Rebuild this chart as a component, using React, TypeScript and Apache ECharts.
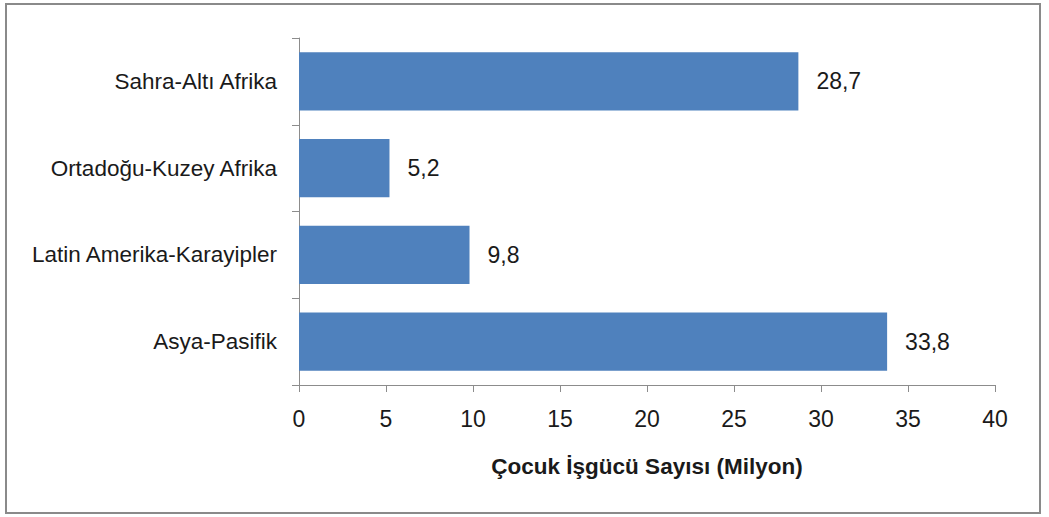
import React, { useEffect, useRef } from "react";
import * as echarts from "echarts";

const categories = ["Sahra-Altı Afrika", "Ortadoğu-Kuzey Afrika", "Latin Amerika-Karayipler", "Asya-Pasifik"];
const values = [28.7, 5.2, 9.8, 33.8];
const axisTitle = "Çocuk İşgücü Sayısı (Milyon)";

const FONT = "'Liberation Sans Narrow', 'Arial Narrow', 'Liberation Sans', Arial, sans-serif";

export default function App() {
  const ref = useRef<HTMLDivElement>(null);
  useEffect(() => {
    document.body.style.margin = "0";
    const chart = echarts.init(ref.current!, null, { renderer: "svg" });
    chart.setOption({
      animation: false,
      backgroundColor: "#ffffff",
      grid: { left: 299, right: 54, top: 38, bottom: 132 },
      graphic: [
        {
          type: "rect",
          shape: { x: 6, y: 4, width: 1034, height: 509 },
          style: { fill: "none", stroke: "#8a8a8a", lineWidth: 2 },
          silent: true,
        },
      ],
      xAxis: {
        type: "value",
        min: 0,
        max: 40,
        interval: 5,
        splitLine: { show: false },
        axisLine: { show: true, lineStyle: { color: "#8c8c8c", width: 1 } },
        axisTick: { show: true, length: 7, lineStyle: { color: "#8c8c8c" } },
        axisLabel: { color: "#1a1a1a", fontSize: 23, fontFamily: FONT, margin: 22 },
        name: axisTitle,
        nameLocation: "middle",
        nameGap: 70,
        nameTextStyle: { color: "#1a1a1a", fontSize: 22.5, fontWeight: "bold", fontFamily: FONT },
      },
      yAxis: {
        type: "category",
        data: categories,
        inverse: true,
        axisLine: { show: true, lineStyle: { color: "#8c8c8c", width: 1 } },
        axisTick: { show: true, length: 7, lineStyle: { color: "#8c8c8c" } },
        axisLabel: { color: "#1a1a1a", fontSize: 22.5, fontFamily: FONT, margin: 22 },
      },
      series: [
        {
          type: "bar",
          data: values,
          barCategoryGap: "33%",
          itemStyle: { color: "#4f81bd" },
          label: {
            show: true,
            position: "right",
            distance: 18,
            color: "#1a1a1a",
            fontSize: 23,
            fontFamily: FONT,
            formatter: (p: any) => String(p.value).replace(".", ","),
          },
        },
      ],
    });
    return () => chart.dispose();
  }, []);
  return <div ref={ref} style={{ width: 1049, height: 517 }} />;
}
